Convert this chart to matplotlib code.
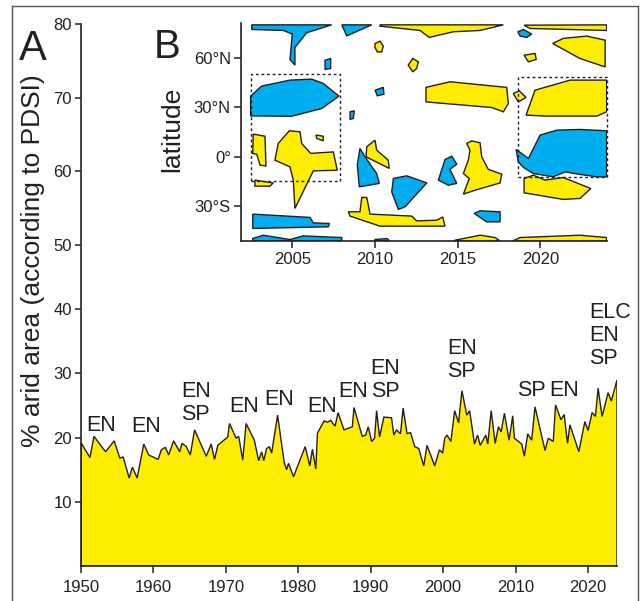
import numpy as np
import matplotlib
matplotlib.use('Agg')
import matplotlib.pyplot as plt
from matplotlib.patches import Polygon, Rectangle
from matplotlib.lines import Line2D

plt.rcParams['font.family'] = ['Liberation Sans', 'DejaVu Sans']

# ---------------- data: panel A (percent arid area) ----------------
years = np.array([
    1950.0, 1951.24, 1951.79, 1953.39, 1954.58, 1955.36, 1955.82, 1956.65, 1957.1, 1957.75,
    1958.67, 1959.35, 1960.64, 1961.1, 1961.65, 1962.1, 1962.79, 1963.62, 1963.94, 1964.54,
    1965.09, 1965.68, 1967.29, 1967.98, 1968.43, 1968.89, 1970.26, 1970.5, 1971.41, 1971.77,
    1972.33, 1972.79, 1973.93, 1974.53, 1974.94, 1975.22, 1975.63, 1976.0, 1976.32, 1977.14,
    1978.06, 1978.38, 1978.65, 1979.34, 1980.12, 1980.95, 1981.59, 1981.95, 1982.42, 1982.64,
    1983.56, 1984.02, 1984.48, 1984.71, 1985.08, 1985.49, 1986.31, 1987.46, 1987.69, 1988.83,
    1989.3, 1989.66, 1990.12, 1990.53, 1990.81, 1991.22, 1991.82, 1992.87, 1993.19, 1993.56,
    1994.11, 1994.47, 1995.02, 1995.49, 1996.08, 1996.63, 1997.32, 1997.77, 1998.83, 1999.48,
    1999.93, 2000.21, 2000.53, 2001.07, 2001.58, 2002.13, 2002.59, 2003.27, 2003.65, 2004.33,
    2004.75, 2005.11, 2005.89, 2006.16, 2006.63, 2007.18, 2007.63, 2008.0, 2008.46, 2009.1,
    2009.6, 2009.84, 2010.84, 2011.21, 2011.67, 2012.22, 2012.68, 2014.06, 2014.51, 2015.2,
    2015.52, 2016.26, 2016.71, 2017.17, 2017.5, 2018.73, 2019.56, 2020.01, 2020.56, 2021.02,
    2021.39, 2021.94, 2022.77, 2023.22, 2024.0])
arid = np.array([
    19.2, 16.9, 20.2, 17.8, 19.5, 16.8, 17.0, 13.7, 15.4, 13.7,
    19.0, 17.3, 16.6, 18.1, 18.5, 17.3, 19.5, 17.8, 19.1, 18.6,
    17.3, 21.2, 17.1, 19.0, 16.6, 18.8, 20.1, 22.2, 19.9, 20.2,
    16.5, 22.2, 19.6, 16.4, 17.8, 16.4, 18.3, 18.6, 17.6, 23.5,
    16.1, 15.0, 16.0, 13.9, 16.2, 18.6, 15.6, 18.2, 15.1, 20.7,
    22.6, 22.4, 22.7, 22.3, 21.8, 23.9, 21.2, 21.7, 24.7, 20.2,
    20.4, 21.7, 19.4, 19.9, 24.2, 20.1, 23.2, 23.1, 20.4, 21.2,
    20.6, 24.6, 20.6, 20.8, 18.6, 18.3, 15.6, 18.8, 15.6, 18.1,
    17.6, 19.9, 20.4, 19.4, 24.2, 22.3, 27.3, 23.5, 24.2, 19.0,
    20.4, 18.8, 20.4, 19.0, 24.2, 19.1, 21.7, 20.9, 23.8, 19.6,
    23.4, 19.9, 19.0, 17.1, 20.6, 19.6, 24.8, 18.0, 19.9, 19.4,
    25.1, 22.8, 23.6, 19.1, 22.0, 17.8, 22.5, 21.1, 23.9, 23.3,
    27.7, 23.3, 27.0, 25.7, 29.0])

x_ticks = [1950, 1960, 1970, 1980, 1990, 2000, 2010, 2020]
y_ticks = [10, 20, 30, 40, 50, 60, 70, 80]

ann_text = ['EN', 'EN', 'EN\nSP', 'EN', 'EN', 'EN', 'EN', 'EN\nSP', 'EN\nSP', 'SP', 'EN', 'ELC\nEN\nSP']
ann_year = [1950.69, 1956.97, 1963.85, 1970.5, 1975.3, 1981.3, 1985.5, 1990.0, 2000.55, 2010.2, 2014.65, 2020.2]
ann_base = [21.0, 20.9, 22.7, 24.0, 25.1, 24.0, 26.3, 26.3, 29.4, 26.5, 26.5, 31.5]

# ---------------- data: panel B (anomaly regions, year vs latitude) ----------------
blue_polys = [
    [(2002.55, 80), (2007.38, 80), (2005.87, 75.2), (2005.16, 66.3), (2005.16, 55.6), (2004.86, 59.0),
     (2005.0, 74.4), (2004.46, 76.6), (2002.55, 77.2)],
    [(2006.98, 58.6), (2007.32, 59.6), (2007.32, 53.6), (2006.98, 53.0)],
    [(2007.99, 80), (2009.80, 80), (2008.29, 73.3)],
    [(2010.0, 40.4), (2010.50, 42.1), (2010.54, 38.0), (2010.14, 37.0)],
    [(2002.48, 36.8), (2003.15, 42.9), (2004.86, 46.5), (2006.17, 47.1), (2006.87, 44.5), (2007.82, 36.8),
     (2006.78, 29.3), (2004.96, 24.6), (2002.48, 24.8)],
    [(2008.49, 27.3), (2008.75, 27.9), (2008.69, 23.3), (2008.49, 22.7)],
    [(2002.61, -34.7), (2006.07, -36.7), (2006.27, -40.0), (2007.24, -40.4), (2007.18, -42.4), (2002.61, -43.4)],
    [(2002.61, -49.5), (2003.25, -47.5), (2004.86, -50.1), (2005.67, -47.9), (2007.99, -48.9), (2007.99, -51),
     (2002.61, -51)],
    [(2010.0, -50.1), (2010.71, -49.5), (2010.91, -51), (2010.0, -51)],
    [(2009.09, 5.1), (2009.40, 0.0), (2010.10, -10.1), (2010.26, -16.1), (2009.05, -18.2), (2008.93, -5.0)],
    [(2011.11, -13.1), (2011.92, -11.5), (2013.13, -15.8), (2011.81, -30.3), (2011.41, -31.9), (2011.01, -21.2)],
    [(2018.63, 75.8), (2018.97, 77.2), (2019.47, 74.4), (2019.17, 72.4), (2018.77, 73.2)],
    [(2018.53, 4.5), (2019.27, -1.0), (2019.98, 13.2), (2020.99, 16.2), (2022.39, 16.6), (2024.0, 15.8),
     (2024.0, -12.1), (2023.40, -12.1), (2022.29, -10.5), (2021.49, -9.1), (2020.78, -12.1), (2019.57, -10.1),
     (2018.97, -6.4), (2018.66, -3.0)],
    [(2015.99, -34.3), (2016.35, -32.7), (2017.56, -33.3), (2017.56, -39.4), (2016.75, -39.4)],
    [(2013.83, -14.1), (2014.23, -1.6), (2014.64, 0.4), (2014.94, -4.4), (2014.53, -7.6), (2014.94, -16.1),
     (2014.43, -17.2)],
]
yellow_polys = [
    [(2010.30, 80), (2017.76, 80), (2016.35, 76.6), (2014.73, 75.8), (2013.28, 72.4), (2012.72, 76.6),
     (2010.30, 79.2)],
    [(2010.0, 68.7), (2010.30, 70.1), (2010.50, 67.1), (2010.41, 63.6), (2010.14, 63.6), (2010.0, 66.3)],
    [(2012.01, 55.6), (2012.28, 59.6), (2012.62, 57.6), (2012.52, 53.6), (2012.28, 51.5)],
    [(2002.64, 13.8), (2003.35, 12.5), (2003.41, -5.6), (2003.05, -5.0), (2002.85, 1.6), (2002.61, 2.1)],
    [(2004.15, 8.1), (2004.82, 15.8), (2005.47, 15.2), (2005.57, 8.1), (2006.11, 2.1), (2007.48, 3.0),
     (2007.72, -8.1), (2006.27, -8.5), (2005.16, -31.3), (2005.06, -14.1), (2004.86, -6.1), (2003.95, -2.0)],
    [(2006.43, 13.2), (2006.87, 12.5), (2006.87, 9.7), (2006.48, 11.2)],
    [(2002.74, -14.1), (2003.85, -15.8), (2003.65, -17.8), (2002.74, -17.8)],
    [(2009.50, 6.1), (2010.0, 10.1), (2010.10, 4.1), (2010.80, -2.0), (2010.86, -7.0), (2009.46, 0.0)],
    [(2008.39, -33.3), (2009.09, -33.3), (2009.20, -24.6), (2009.50, -24.6), (2009.70, -34.7), (2012.22, -35.9),
     (2012.52, -38.8), (2013.73, -38.4), (2014.09, -36.4), (2014.23, -42.0), (2012.72, -42.0), (2010.30, -42.0),
     (2008.49, -35.9)],
    [(2013.08, 42.1), (2014.53, 45.5), (2017.96, 42.1), (2018.06, 32.4), (2017.76, 27.3), (2017.06, 29.9),
     (2013.08, 33.3)],
    [(2019.01, 79.8), (2024.0, 80), (2024.0, 76.6), (2019.37, 77.8)],
    [(2020.74, 68.7), (2021.38, 71.8), (2022.80, 73.2), (2023.91, 70.7), (2023.91, 54.5), (2022.39, 59.6)],
    [(2019.01, 61.6), (2019.68, 62.7), (2019.74, 59.0), (2019.27, 57.6)],
    [(2018.36, 38.4), (2018.72, 40.0), (2019.13, 36.0), (2018.66, 33.3)],
    [(2019.13, 25.3), (2019.67, 40.4), (2021.79, 46.5), (2024.0, 46.5), (2024.0, 27.3), (2023.40, 24.7),
     (2020.38, 24.7)],
    [(2019.01, -13.1), (2019.57, -11.1), (2020.28, -14.1), (2021.38, -12.5), (2023.04, -19.2), (2022.39, -25.2),
     (2021.38, -25.8), (2019.01, -21.8)],
    [(2014.84, -50.5), (2016.35, -47.5), (2017.26, -48.9), (2017.56, -51), (2014.84, -51)],
    [(2018.33, -51), (2018.77, -48.9), (2022.39, -47.5), (2024.0, -48.9), (2024.0, -51)],
    [(2015.54, 8.1), (2015.85, 9.7), (2016.35, 8.5), (2016.45, 0.0), (2016.85, -7.6), (2017.66, -10.5),
     (2017.56, -15.8), (2016.05, -20.2), (2015.34, -22.6), (2015.70, -13.1), (2015.34, -10.1), (2015.64, -2.0),
     (2015.74, 4.0)],
]
# dashed boxes: (year0, year1, lat0, lat1)
boxes = [(2002.48, 2007.88, -14.5, 50.1), (2018.66, 2024.04, -12.1, 48.5)]
b_xticks = [2005, 2010, 2015, 2020]
b_yticks = [-30, 0, 30, 60]
b_ylabels = ['30°S', '0°', '30°N', '60°N']

# ---------------- style ----------------
YELLOW = '#FFED00'
BLUE = '#00AEEF'
INK = '#231F20'
W, H = 642, 601

fig = plt.figure(figsize=(W / 100, H / 100), dpi=100)

def fx(px):
    return px / W

def fy(py):
    return 1 - py / H

# ---------- Panel A ----------
ax = fig.add_axes([fx(81), fy(566), (617 - 81) / W, (566 - 24) / H])
k = 7.37 / 6.42

def fwd(y):
    y = np.asarray(y, dtype=float)
    return np.where(y <= 50, y, 50 + (y - 50) * k)

def inv(t):
    t = np.asarray(t, dtype=float)
    return np.where(t <= 50, t, 50 + (t - 50) / k)

ax.set_yscale('function', functions=(fwd, inv))
ax.set_xlim(1950, 2024)
ax.set_ylim(0, 80)
ax.fill(np.r_[years, years[-1], years[0]], np.r_[arid, 0, 0],
        facecolor=YELLOW, edgecolor=INK, lw=1.0, joinstyle='miter', zorder=2)
for s in ['top', 'right']:
    ax.spines[s].set_visible(False)
for s in ['left', 'bottom']:
    ax.spines[s].set_linewidth(1.2)
    ax.spines[s].set_color(INK)
    ax.spines[s].set_zorder(3)
ax.set_xticks(x_ticks)
ax.set_yticks(y_ticks)
ax.yaxis.set_minor_locator(matplotlib.ticker.NullLocator())
ax.tick_params(axis='both', direction='out', colors=INK, labelsize=12, width=1.1)
ax.tick_params(axis='x', length=5, pad=5)
ax.tick_params(axis='y', length=4.5, pad=2)
ax.patch.set_visible(False)

line_gap = 16.6  # points between stacked label lines
for txt, yr, base in zip(ann_text, ann_year, ann_base):
    lines = txt.split('\n')
    n = len(lines)
    for i, ln in enumerate(lines):
        ax.annotate(ln, xy=(yr, base), xytext=(0, (n - 1 - i) * line_gap),
                    textcoords='offset points', ha='left', va='baseline',
                    fontsize=15.5, color=INK, zorder=4)

fig.text(fx(33), fy(74), '% arid area (according to PDSI)', rotation=90,
         ha='center', va='top', fontsize=19, color=INK)
fig.text(fx(19), fy(60), 'A', ha='left', va='baseline', fontsize=30, color=INK)

# ---------- Panel B (inset) ----------
bx = fig.add_axes([fx(240.5), fy(241), (607.3 - 240.5) / W, (241 - 23.2) / H])
bx.set_xlim(2001.87, 2024.04)
bx.set_ylim(-51, 81)
bx.patch.set_visible(False)
for poly in blue_polys:
    bx.add_patch(Polygon(poly, closed=True, facecolor=BLUE, edgecolor=INK, lw=1.0, zorder=2))
for poly in yellow_polys:
    bx.add_patch(Polygon(poly, closed=True, facecolor=YELLOW, edgecolor=INK, lw=1.0, zorder=2))
for x0, x1, y0, y1 in boxes:
    bx.add_patch(Rectangle((x0, y0), x1 - x0, y1 - y0, fill=False, edgecolor=INK,
                           lw=1.0, ls=(0, (2, 2)), zorder=3, clip_on=False))
for s in ['top', 'right']:
    bx.spines[s].set_visible(False)
for s in ['left', 'bottom']:
    bx.spines[s].set_linewidth(1.2)
    bx.spines[s].set_color(INK)
bx.set_xticks(b_xticks)
bx.set_yticks(b_yticks)
bx.set_yticklabels(b_ylabels)
bx.tick_params(axis='both', direction='out', colors=INK, labelsize=12, width=1.1)
bx.tick_params(axis='x', length=5, pad=3)
bx.tick_params(axis='y', length=5, pad=2)
fig.text(fx(172), fy(129), 'latitude', rotation=90, ha='center', va='center',
         fontsize=19, color=INK)
fig.text(fx(154), fy(58), 'B', ha='left', va='baseline', fontsize=29, color=INK)

# ---------- outer frame ----------
for xs, ys in [((12, 12), (6, 601)), ((12, 638), (6, 6)), ((638, 638), (6, 601))]:
    fig.add_artist(Line2D([fx(xs[0]), fx(xs[1])], [fy(ys[0]), fy(ys[1])],
                          transform=fig.transFigure, color='#555555', lw=1.0))

fig.savefig('out.png', dpi=100)
